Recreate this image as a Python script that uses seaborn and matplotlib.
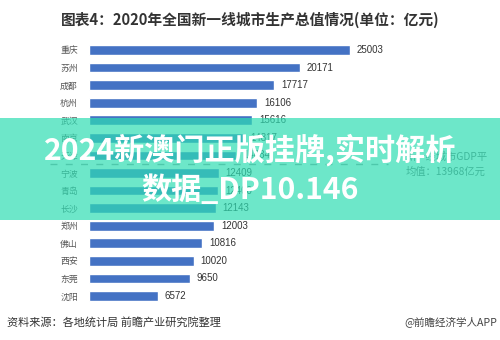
import matplotlib
matplotlib.use("Agg")
import matplotlib.pyplot as plt
from matplotlib.patches import Rectangle
import seaborn as sns
import pandas as pd

# 2020 GDP of the "new first-tier" cities (100 million yuan)
cities = ["重庆", "苏州", "成都", "杭州", "武汉", "南京", "天津", "宁波",
          "青岛", "长沙", "郑州", "佛山", "西安", "东莞", "沈阳"]
gdp = [25003, 20171, 17717, 16106, 15616, 14817, 14084, 12409,
       12400, 12143, 12003, 10816, 10020, 9650, 6572]
avg_gdp = 13968

title = "图表4：2020年全国新一线城市生产总值情况(单位：亿元)"
avg_lines = ["新一线城市GDP平", f"均值：{avg_gdp}亿元"]
source = "资料来源：各地统计局 前瞻产业研究院整理"
brand = "@前瞻经济学人APP"
banner_lines = ["2024新澳门正版挂牌,实时解析", "数据_DP10.146"]

sns.set_theme(style="white")
plt.rcParams["font.family"] = ["Noto Sans CJK SC", "DejaVu Sans"]

df = pd.DataFrame({"city": cities, "gdp": gdp})

fig = plt.figure(figsize=(5.0, 3.4), dpi=100)
ax = fig.add_axes([0.178, 0.1035, 0.782, 0.7753])

sns.barplot(data=df, x="gdp", y="city", orient="h", color="#4472C4",
            saturation=1, width=0.55, ax=ax)

ax.set_xlim(0, 37450)
ax.set_ylim(len(cities) - 0.5, -0.5)
for s in ax.spines.values():
    s.set_visible(False)
ax.set_xticks([])
ax.set_xlabel("")
ax.set_ylabel("")
ax.tick_params(axis="y", length=0, pad=8, labelsize=6.4, labelcolor="#555555")

# value labels at the end of each bar
for i, v in enumerate(gdp):
    ax.annotate(f"{v}", xy=(v, i), xytext=(5, 0), textcoords="offset points",
                va="center", ha="left", fontsize=7, color="#333333",
                family=["Liberation Sans", "DejaVu Sans"])

# dashed separator between above- and below-average cities
above = sum(1 for v in gdp if v > avg_gdp)
ax.plot([-0.10, 0.765], [above - 0.5, above - 0.5], transform=ax.get_yaxis_transform(),
        ls=(0, (5, 6)), color="#999999", lw=1.0, clip_on=False)
ax.text(0.81, above - 0.5, avg_lines[0] + "\n" + avg_lines[1],
        transform=ax.get_yaxis_transform(), ha="left", va="center",
        fontsize=7.4, color="#666666", linespacing=1.6)

fig.text(0.5, 0.941, title, ha="center", va="center", fontsize=10.6,
         fontweight="bold", color="#333333")
fig.text(0.014, 0.053, source, ha="left", va="center", fontsize=8, color="#333333")
fig.text(0.994, 0.053, brand, ha="right", va="center", fontsize=7.6, color="#444444")

# translucent green banner across the middle
fig.patches.append(Rectangle((0, 1 - 220 / 340), 1, 102 / 340, transform=fig.transFigure,
                             facecolor="#2FDDB3", alpha=0.7, edgecolor="none", zorder=5))
fig.text(0.5, 1 - 150 / 340, banner_lines[0], ha="center", va="center", fontsize=21.7,
         fontweight="bold", color="white", zorder=6)
fig.text(0.5, 1 - 190 / 340, banner_lines[1], ha="center", va="center", fontsize=21.7,
         fontweight="bold", color="white", zorder=6)

fig.savefig("out.png", dpi=100)
